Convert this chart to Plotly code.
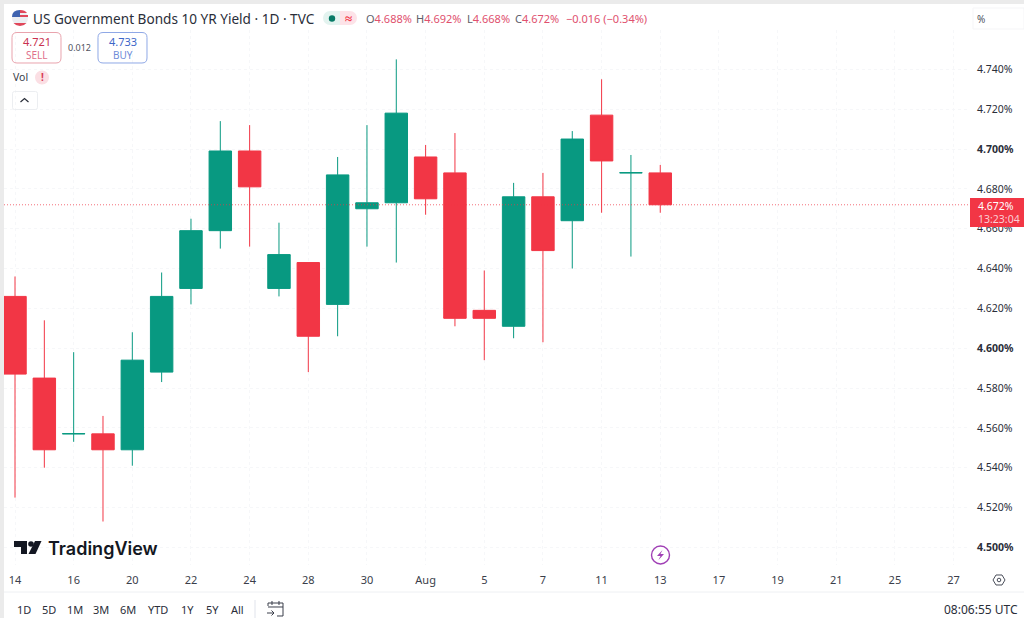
import plotly.graph_objects as go

# ---- data ----
sessions = list(range(23))
opens  = [4.626,4.585,4.557,4.557,4.549,4.588,4.630,4.659,4.699,4.630,4.643,4.622,4.670,4.673,4.696,4.688,4.619,4.611,4.676,4.664,4.717,4.688,4.688]
highs  = [4.636,4.614,4.598,4.566,4.608,4.638,4.665,4.714,4.712,4.663,4.643,4.696,4.712,4.745,4.702,4.708,4.639,4.683,4.688,4.709,4.735,4.697,4.692]
lows   = [4.525,4.540,4.553,4.513,4.541,4.583,4.622,4.650,4.651,4.626,4.588,4.606,4.651,4.643,4.667,4.611,4.594,4.605,4.603,4.640,4.668,4.646,4.668]
closes = [4.587,4.549,4.5571,4.549,4.594,4.626,4.659,4.699,4.681,4.647,4.606,4.687,4.673,4.718,4.675,4.615,4.615,4.676,4.649,4.705,4.694,4.6881,4.672]
x_tick_positions = [0,2,4,6,8,10,12,14,16,18,20,22,24,26,28,30,32]
x_tick_labels = ["14","16","20","22","24","28","30","Aug","5","7","11","13","17","19","21","25","27"]
y_tick_values = [4.50,4.52,4.54,4.56,4.58,4.60,4.62,4.64,4.66,4.68,4.70,4.72,4.74]
y_tick_labels = ["<b>4.500%</b>","4.520%","4.540%","4.560%","4.580%","<b>4.600%</b>","4.620%","4.640%","4.660%","4.680%","<b>4.700%</b>","4.720%","4.740%"]
range_buttons = ["1D","5D","1M","3M","6M","YTD","1Y","5Y","All"]
range_button_x = [24,49,75,101,128,158,187,212,237]
last_price = 4.672

W, H = 1024, 618
GREEN, RED = "#089981", "#F23645"
INK = "#131722"
FONT = "Noto Sans"

def px(x): return x / W
def py(y): return 1 - y / H

# axis calibration (pixel positions of the plot window)
L, R, T, B = 4, 967, 30, 565
x0_px, dx_px = 15, 29.33
x_range = [(L - x0_px) / dx_px, (R - x0_px) / dx_px]
y_of = lambda p: 4.7 - (p - 149) / 1992
y_range = [y_of(B), y_of(T)]

fig = go.Figure(go.Candlestick(
    x=sessions, open=opens, high=highs, low=lows, close=closes,
    increasing=dict(line=dict(color=GREEN, width=1), fillcolor=GREEN),
    decreasing=dict(line=dict(color=RED, width=1), fillcolor=RED),
    whiskerwidth=0, hoverinfo="skip", showlegend=False,
))

shapes, annots = [], []

def text(x, y, s, size=11, color=INK, anchor="left", family=FONT, weight=None):
    f = dict(size=size, color=color, family=family)
    if weight:
        f["weight"] = weight
    annots.append(dict(x=px(x), y=py(y), xref="paper", yref="paper", text=s, showarrow=False,
                       xanchor=anchor, yanchor="middle", borderpad=0, font=f))

def rect(x0, y0, x1, y1, fill=None, line=None, lw=1, layer="above"):
    shapes.append(dict(type="rect", xref="paper", yref="paper", x0=px(x0), x1=px(x1), y0=py(y0), y1=py(y1),
                       fillcolor=fill or "rgba(0,0,0,0)", line=dict(color=line or "rgba(0,0,0,0)", width=lw if line else 0), layer=layer))

def circle(cx, cy, r, fill=None, line=None, lw=1):
    shapes.append(dict(type="circle", xref="paper", yref="paper", x0=px(cx-r), x1=px(cx+r), y0=py(cy-r), y1=py(cy+r),
                       fillcolor=fill or "rgba(0,0,0,0)", line=dict(color=line or "rgba(0,0,0,0)", width=lw if line else 0)))

def path(d, fill=None, line=None, lw=1):
    out = []
    for c in d:
        if isinstance(c, str):
            out.append(c)
        else:
            out.append(f"{px(c[0]):.5f},{py(c[1]):.5f}")
    shapes.append(dict(type="path", xref="paper", yref="paper", path=" ".join(out),
                       fillcolor=fill or "rgba(0,0,0,0)", line=dict(color=line or "rgba(0,0,0,0)", width=lw if line else 0)))

def rounded(x0, y0, x1, y1, r, line, lw=1):
    path(["M",(x0+r,y0),"L",(x1-r,y0),"Q",(x1,y0),(x1,y0+r),"L",(x1,y1-r),"Q",(x1,y1),(x1-r,y1),
          "L",(x0+r,y1),"Q",(x0,y1),(x0,y1-r),"L",(x0,y0+r),"Q",(x0,y0),(x0+r,y0),"Z"], line=line, lw=lw)

# window chrome
rect(0, 0, W, 4, fill="#ebebeb")
rect(0, 0, 4, H, fill="#ebebeb")
shapes.append(dict(type="line", xref="paper", yref="paper", x0=px(4), x1=1, y0=py(592), y1=py(592),
                   line=dict(color="#eef0f3", width=1)))

# last price line
shapes.append(dict(type="line", xref="paper", yref="y", x0=px(4), x1=px(970), y0=last_price, y1=last_price,
                   line=dict(color=RED, width=1, dash="1px,2px"), opacity=0.7))

# flag icon
circle(20, 18, 8, fill="#eceef2")
path(["M",(12,17),"Q",(12,10),(20,10),"L",(20,17),"Z"], fill="#3f63b0")
path(["M",(20,10),"Q",(25,10),(27,13),"L",(20,13),"Z"], fill="#e0475a")
path(["M",(20,15),"L",(28,15),"L",(28,17),"L",(20,17),"Z"], fill="#e0475a")
path(["M",(13.5,23),"L",(26.5,23),"Q",(24,26),(20,26),"Q",(16,26),(13.5,23),"Z"], fill="#e0475a")

# header
text(32, 18.5, "US Government Bonds 10 YR Yield · 1D · TVC", size=13.6, color="#2a2e39")
rect(330, 11, 340, 25, fill="#e3f3ef")
circle(330, 18, 7, fill="#e3f3ef")
rect(340, 11, 350, 25, fill="#fde3e8")
circle(350, 18, 7, fill="#fde3e8")
circle(332, 18.5, 3.2, fill="#067a66")
text(348, 18, "<b>≈</b>", size=13, color=RED, anchor="center")
ohlc_x = [365, 415, 466, 514]
ohlc_k = ["O", "H", "L", "C"]
ohlc_v = ["4.688%", "4.692%", "4.668%", "4.672%"]
for xx, k, v in zip(ohlc_x, ohlc_k, ohlc_v):
    text(xx, 18.5, f'<span style="color:#5d606b">{k}</span><span style="color:#e0506e">{v}</span>', size=11)
text(565, 18.5, "−0.016 (−0.34%)", size=11, color="#e0506e")

# sell / buy
rounded(12, 32.5, 61, 63, 5, "#e9a3ad")
rounded(98, 32.5, 147, 63, 5, "#8fa8e6")
text(36.5, 42, "4.721", size=11, color="#c9314f", anchor="center")
text(36.5, 54.5, "SELL", size=10, color="#e0708a", anchor="center")
text(79, 47, "0.012", size=9, color="#50535e", anchor="center")
text(122.5, 42, "4.733", size=11, color="#3d66c8", anchor="center")
text(122.5, 54.5, "BUY", size=10, color="#6e8cd8", anchor="center")

# vol row
text(12, 77.5, "Vol", size=10.5, color="#3a3e4a")
circle(42, 77.5, 7, fill="#fbdfe4")
text(42, 77.5, "<b>!</b>", size=10, color="#d83a55", anchor="center")
rounded(12.5, 91.5, 37.5, 109.5, 2, "#eceef1")
path(["M",(20.5,102),"L",(24.5,98.5),"L",(28.5,102)], line="#2a2e39", lw=1.2)

# TradingView logo
path(["M",(14,541),"L",(27,541),"L",(27,554),"L",(21,554),"L",(21,547),"L",(14,547),"Z"], fill="#131722")
circle(31, 544, 2.8, fill="#131722")
path(["M",(35,541),"L",(41.5,541),"L",(35.5,554),"L",(28.5,554),"Z"], fill="#131722")
text(46.5, 548, "TradingView", size=18, color="#131722", family="Inter", weight=600)

# lightning badge
circle(660.5, 555, 9, fill="#ffffff", line="#a03fb5", lw=1.4)
path(["M",(662.5,550),"L",(657,556),"L",(660.5,556),"L",(658.5,560),"L",(664,554),"L",(660.5,554),"Z"], fill="#a03fb5")

# price scale items
rect(973, 8, 1024, 29, fill="#ffffff", line="#f5f5f7")
text(976, 19, "%", size=10, color="#50535e")
rect(970, 198, 1024, 227, fill=RED)
text(977, 206, "4.672%", size=10.5, color="#ffffff")
text(977, 219, "13:23:04", size=10.5, color="#fbd0d6")

# gear
path(["M",(993,580),"L",(996,575),"L",(1002,575),"L",(1005,580),"L",(1002,585),"L",(996,585),"Z"], line="#4a4e5a", lw=1)
circle(999, 580, 1.8, line="#4a4e5a", lw=1)

# bottom bar
for xx, s in zip(range_button_x, range_buttons):
    text(xx, 609.5, s, size=11, color="#2a2e39", anchor="center")
shapes.append(dict(type="line", xref="paper", yref="paper", x0=px(255), x1=px(255), y0=py(600), y1=py(618),
                   line=dict(color="#e0e3eb", width=1)))
path(["M",(268,606),"L",(268,603),"L",(283,603),"L",(283,616),"L",(277,616)], line="#3a3e4a", lw=1)
path(["M",(268,607),"L",(283,607)], line="#3a3e4a", lw=1)
path(["M",(272,601),"L",(272,605),"M",(279,601),"L",(279,605)], line="#3a3e4a", lw=1)
path(["M",(267,613),"L",(274,613),"M",(271.5,610.5),"L",(274,613),"L",(271.5,615.5)], line="#3a3e4a", lw=1)
text(1019, 609, "08:06:55 UTC", size=12, color="#2a2e39", anchor="right")

fig.update_layout(
    width=W, height=H, margin=dict(l=0, r=0, t=0, b=0),
    paper_bgcolor="#ffffff", plot_bgcolor="#ffffff", boxgap=0.235, boxgroupgap=0, showlegend=False,
    font=dict(family=FONT, size=11, color=INK), shapes=shapes, annotations=annots,
    xaxis=dict(domain=[px(L), px(R)], range=x_range, rangeslider=dict(visible=False),
               tickmode="array", tickvals=x_tick_positions, ticktext=x_tick_labels,
               ticks="", ticklabelstandoff=7, tickfont=dict(size=11, color="#3a3e4a", family=FONT),
               showgrid=True, gridcolor="#f6f7f9", griddash="dot", gridwidth=1,
               zeroline=False, showline=False, fixedrange=True),
    yaxis=dict(domain=[py(B), py(T)], range=y_range, side="right",
               tickmode="array", tickvals=y_tick_values, ticktext=y_tick_labels,
               ticks="", ticklabelstandoff=9, tickfont=dict(size=10.5, color="#2a2e39", family=FONT),
               showgrid=True, gridcolor="#f6f7f9", griddash="dot", gridwidth=1,
               zeroline=False, showline=False, fixedrange=True),
)

fig.write_html("out.html", config={"displayModeBar": False},
               post_script="document.body.style.margin='0';")
